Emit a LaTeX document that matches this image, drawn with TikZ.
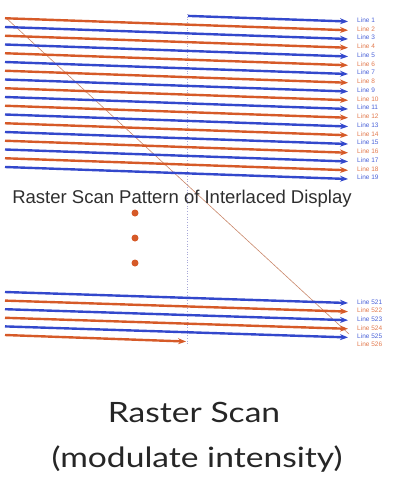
\documentclass[tikz,border=0pt]{standalone}
\usepackage{fontspec}
\setmainfont{Liberation Sans}
\newfontfamily\latofont{Lato}
\usetikzlibrary{arrows.meta}
\definecolor{scanorange}{HTML}{D65A28}
\definecolor{scanblue}{HTML}{3348CC}
\definecolor{lblorange}{HTML}{E27A4E}
\definecolor{lblblue}{HTML}{4A62D8}
\definecolor{retrace}{HTML}{C9876A}
\definecolor{guide}{HTML}{A8A8D8}
\definecolor{captiongray}{HTML}{2E2E2E}
\tikzset{
  scanline/.style={line width=2.4pt, -{Stealth[length=8pt,width=6pt]}},
  lbl/.style={anchor=west, inner sep=0pt, font=\fontsize{6.5}{6.5}\selectfont},
  dotmark/.style={circle, fill=scanorange, inner sep=0pt, minimum size=7pt},
  bigtext/.style={anchor=base, inner sep=0pt, text=black!85, font=\latofont\fontsize{28}{28}\selectfont},
}
\begin{document}
\begin{tikzpicture}[x=1pt,y=-1pt]
\useasboundingbox (0,0) rectangle (400,485);
% guide and retrace
\coordinate (gtop) at (187,14);
\coordinate (gbot) at (187,346);
\draw[guide, dotted, line width=0.7pt] (gtop) -- (gbot);
\coordinate (rtop) at (5,17);
\coordinate (rbot) at (349,334);
\draw[retrace, line width=0.6pt] (rtop) -- (rbot);
% top block of lines
\foreach \k in {1,...,19}{
  \pgfmathsetmacro{\ys}{9.5+8.75*(\k-1)}
  \pgfmathsetmacro{\ye}{\ys+12}
  \pgfmathtruncatemacro{\odd}{mod(\k,2)}
  \ifnum\odd=1 \def\lc{scanblue}\def\tc{lblblue}\else\def\lc{scanorange}\def\tc{lblorange}\fi
  \ifnum\k=1
    \coordinate (s\k) at (188,\ys+6.4);
  \else
    \coordinate (s\k) at (5,\ys);
  \fi
  \coordinate (e\k) at (348,\ye);
  \draw[scanline, \lc] (s\k) -- (e\k);
  \node[lbl, text=\tc] (l\k) at (357,\ye-1.5) {Line \k};
}
% bottom block
\foreach \k in {521,...,525}{
  \pgfmathsetmacro{\ys}{292+8.6*(\k-521)}
  \pgfmathsetmacro{\ye}{\ys+11}
  \pgfmathtruncatemacro{\odd}{mod(\k,2)}
  \ifnum\odd=1 \def\lc{scanblue}\def\tc{lblblue}\else\def\lc{scanorange}\def\tc{lblorange}\fi
  \coordinate (s\k) at (5,\ys);
  \coordinate (e\k) at (348,\ye);
  \draw[scanline, \lc] (s\k) -- (e\k);
  \node[lbl, text=\tc] (l\k) at (357,\ye-1) {Line \k};
}
\coordinate (s526) at (5,335);
\coordinate (e526) at (186,341.5);
\draw[scanline, scanorange] (s526) -- (e526);
\node[lbl, text=lblorange] (l526) at (357,344) {Line 526};
% caption
\node[anchor=base, inner sep=0pt, text=captiongray, font=\fontsize{18.5}{18.5}\selectfont] (cap) at (182,203) {Raster Scan Pattern of Interlaced Display};
% dots
\node[dotmark] (d1) at (135,213) {};
\node[dotmark] (d2) at (135,238) {};
\node[dotmark] (d3) at (135,263) {};
% bottom text
\node[bigtext] (t1) at (194,422) {\scalebox{1.2}[1]{Raster Scan}};
\node[bigtext] (t2) at (197,467) {\scalebox{1.2}[1]{(modulate intensity)}};
\end{tikzpicture}
\end{document}
